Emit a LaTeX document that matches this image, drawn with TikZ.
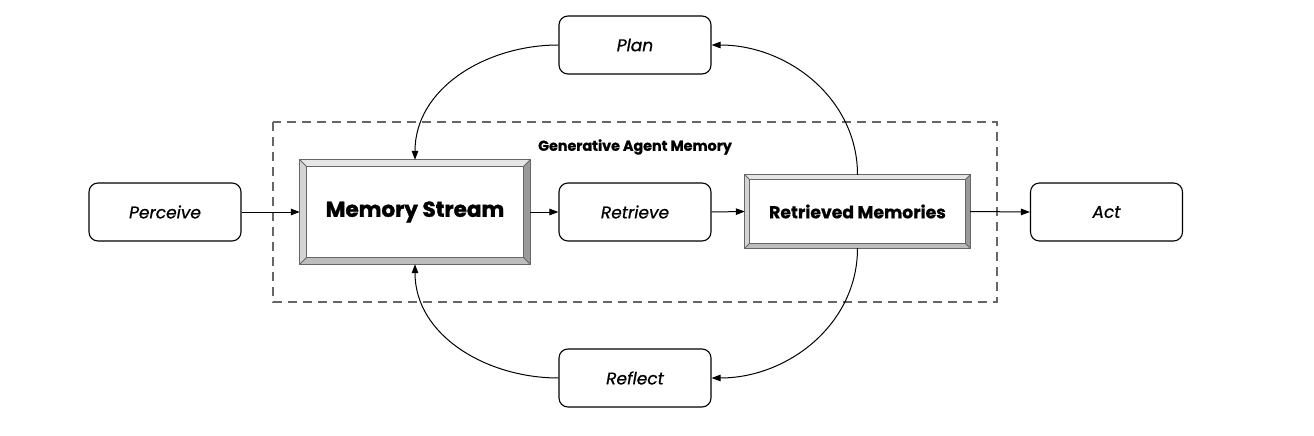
\documentclass[tikz,border=0pt]{standalone}
\usepackage{fontspec}
\setmainfont{Poppins}[ItalicFeatures={FakeBold=0.8}]
\newfontfamily\heavyfont{Poppins}[BoldFeatures={FakeBold=1.6}]
\newfontfamily\semifont{Poppins}[BoldFeatures={FakeBold=0.8}]
\usetikzlibrary{arrows.meta,calc}
\definecolor{bvtop}{HTML}{E6E6E6}
\definecolor{bvleft}{HTML}{D4D4D4}
\definecolor{bvright}{HTML}{9A9A9A}
\definecolor{bvbot}{HTML}{BDBDBD}
\definecolor{bvline}{HTML}{666666}
\tikzset{
  rbox/.style={draw=black, line width=1.1pt, rounded corners=9pt, minimum width=152pt, minimum height=58pt, inner sep=0pt, font=\itshape\fontsize{17}{20}\selectfont},
  bevbox/.style={draw=none, inner sep=0pt},
  conn/.style={line width=1pt, -{Triangle[length=9pt,width=6.5pt]}},
  dashbox/.style={draw=bvline, line width=2pt, dash pattern=on 9pt off 6pt},
}
\newcommand\bevel[2]{%
  \fill[bvtop] (#1.north west) -- (#1.north east) -- ([xshift=-#2pt,yshift=-#2pt]#1.north east) -- ([xshift=#2pt,yshift=-#2pt]#1.north west) -- cycle;
  \fill[bvleft] (#1.north west) -- (#1.south west) -- ([xshift=#2pt,yshift=#2pt]#1.south west) -- ([xshift=#2pt,yshift=-#2pt]#1.north west) -- cycle;
  \fill[bvright] (#1.north east) -- (#1.south east) -- ([xshift=-#2pt,yshift=#2pt]#1.south east) -- ([xshift=-#2pt,yshift=-#2pt]#1.north east) -- cycle;
  \fill[bvbot] (#1.south west) -- (#1.south east) -- ([xshift=-#2pt,yshift=#2pt]#1.south east) -- ([xshift=#2pt,yshift=#2pt]#1.south west) -- cycle;
  \draw[bvline, line width=1.2pt] (#1.north west) rectangle (#1.south east);
  \draw[bvline, line width=1.2pt] ([xshift=#2pt,yshift=-#2pt]#1.north west) rectangle ([xshift=-#2pt,yshift=#2pt]#1.south east);
  \draw[bvline, line width=0.8pt] (#1.north west) -- ([xshift=#2pt,yshift=-#2pt]#1.north west)
     (#1.north east) -- ([xshift=-#2pt,yshift=-#2pt]#1.north east)
     (#1.south west) -- ([xshift=#2pt,yshift=#2pt]#1.south west)
     (#1.south east) -- ([xshift=-#2pt,yshift=#2pt]#1.south east);
}
\begin{document}
\begin{tikzpicture}[x=1pt,y=-1pt]
\useasboundingbox (0,0) rectangle (1314,436);
\draw[dashbox] (273,122) rectangle (997,302);
\node[font=\semifont\bfseries\fontsize{14.3}{16}\selectfont] (gam) at (635,147) {Generative Agent Memory};

\node[bevbox, minimum width=230pt, minimum height=104pt] (ms) at (415,212) {};
\bevel{ms}{7}
\node[font=\heavyfont\bfseries\fontsize{21.5}{24}\selectfont] (mst) at (ms.center) {Memory Stream};

\node[bevbox, minimum width=225pt, minimum height=73pt] (rm) at (857.5,211.5) {};
\bevel{rm}{5}
\node[font=\semifont\bfseries\fontsize{17.2}{20}\selectfont] (rmt) at (rm.center) {Retrieved Memories};

\node[rbox] (perceive) at (165,212) {Perceive};
\node[rbox] (retrieve) at (635,212) {Retrieve};
\node[rbox] (act) at (1106.5,212) {Act};
\node[rbox] (plan) at (635,45) {Plan};
\node[rbox] (reflect) at (635,378) {Reflect};

\draw[conn] (perceive.east) -- (ms.west);
\draw[conn] (ms.east) -- (retrieve.west);
\draw[conn] (retrieve.east) -- (rm.west);
\draw[conn] (rm.east) -- (act.west);
\draw[conn] (rm.north) to[out=90,in=0] (plan.east);
\draw[conn] (plan.west) to[out=180,in=90] (ms.north);
\draw[conn] (rm.south) to[out=-90,in=0] (reflect.east);
\draw[conn] (reflect.west) to[out=180,in=-90] (ms.south);
\end{tikzpicture}
\end{document}
